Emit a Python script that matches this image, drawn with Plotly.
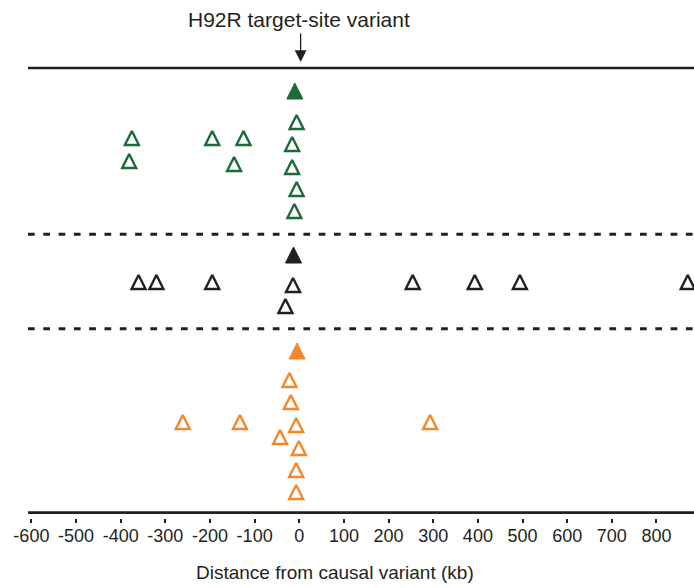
import plotly.graph_objects as go

# ---- data (x: distance in kb, y: vertical row level) ----
green_target_x = [-10]
green_target_y = [90]
green_x = [-6, -375, -195, -125, -16, -381, -146, -16, -6, -11]
green_y = [122, 138, 138, 138, 144, 161, 164, 167, 189, 211]

black_target_x = [-13]
black_target_y = [254]
black_x = [-360, -320, -195, -14, 254, 393, 494, 870, -31]
black_y = [282, 282, 282, 285, 282, 282, 282, 282, 306]

orange_target_x = [-5]
orange_target_y = [350]
orange_x = [-22, -19, -261, -133, 293, -7, -43, -1, -7, -7]
orange_y = [380, 402, 422, 422, 422, 425, 437, 448, 470, 492]

tick_vals = list(range(-600, 801, 100))
tick_text = [str(v) for v in tick_vals]

GREEN = "#1a6b37"
BLACK = "#231f20"
ORANGE = "#f5872a"
FONT = "Liberation Sans, Arial, sans-serif"

fig = go.Figure()

def add_group(xo, yo, xt, yt, color):
    fig.add_trace(go.Scatter(
        x=xo, y=yo, mode="markers", cliponaxis=False, showlegend=False,
        hoverinfo="skip",
        marker=dict(symbol="arrow-up-open", size=14, color=color,
                    line=dict(color=color, width=2.4))))
    fig.add_trace(go.Scatter(
        x=xt, y=yt, mode="markers", cliponaxis=False, showlegend=False,
        hoverinfo="skip",
        marker=dict(symbol="arrow-up", size=16, color=color,
                    line=dict(color=color, width=1))))

add_group(green_x, green_y, green_target_x, green_target_y, GREEN)
add_group(black_x, black_y, black_target_x, black_target_y, BLACK)
add_group(orange_x, orange_y, orange_target_x, orange_target_y, ORANGE)

shapes = [
    dict(type="line", xref="paper", yref="paper", x0=0, x1=1, y0=1.0, y1=1.0,
         line=dict(color=BLACK, width=2.7)),
    dict(type="line", xref="paper", yref="paper", x0=0, x1=1, y0=0.0118, y1=0.0118,
         line=dict(color=BLACK, width=2.7)),
    dict(type="line", xref="paper", yref="paper", x0=0, x1=1, y0=0.6304, y1=0.6304,
         line=dict(color=BLACK, width=3, dash="6.7px,8.6px")),
    dict(type="line", xref="paper", yref="paper", x0=0, x1=1, y0=0.4204, y1=0.4204,
         line=dict(color=BLACK, width=3, dash="6.7px,8.6px")),
]

annotations = [
    dict(text="H92R target-site variant", xref="x", yref="paper", x=0, y=1.1067,
         xanchor="center", yanchor="middle", showarrow=False,
         font=dict(family=FONT, size=21, color=BLACK)),
    dict(text="", xref="x", yref="paper", x=3, y=1.0133, ax=0, ay=-30,
         showarrow=True, arrowhead=2, arrowsize=1.8, arrowwidth=1.3,
         arrowcolor=BLACK),
    dict(text="Distance from causal variant (kb)", xref="paper", yref="paper",
         x=0.461, y=-0.12, xanchor="center", yanchor="middle", showarrow=False,
         font=dict(family=FONT, size=19, color=BLACK)),
]

fig.update_layout(
    width=694, height=588,
    margin=dict(l=28, r=0, t=68, b=70),
    paper_bgcolor="white", plot_bgcolor="white",
    shapes=shapes, annotations=annotations,
    hovermode=False,
    xaxis=dict(range=[-607.6, 884], tickvals=tick_vals, ticktext=tick_text,
               ticks="outside", ticklen=4, tickwidth=2, tickcolor=BLACK,
               ticklabelstandoff=-3,
               showline=False, showgrid=False, zeroline=False,
               tickfont=dict(family=FONT, size=18, color=BLACK),
               fixedrange=True),
    yaxis=dict(range=[525, 75], visible=False, fixedrange=True),
    font=dict(family=FONT, color=BLACK),
)

fig.write_html(
    "out.html",
    config={"displayModeBar": False, "staticPlot": True},
    post_script="document.body.style.margin='0';document.body.style.overflow='hidden';",
)
